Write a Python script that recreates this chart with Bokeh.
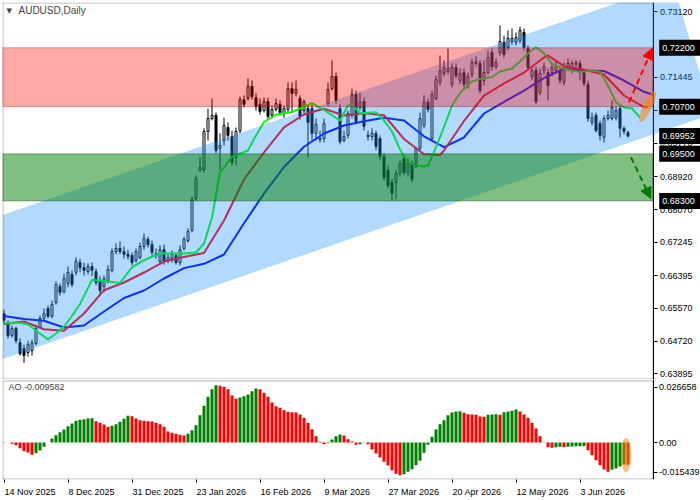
import numpy as np
from bokeh.plotting import figure
from bokeh.layouts import column
from bokeh.models import (ColumnDataSource, Range1d, FixedTicker, PrintfTickFormatter,
                          Label, Arrow, NormalHead, PolyAnnotation, BoxAnnotation)
from bokeh.embed import file_html
from bokeh.resources import INLINE

FONT = "Liberation Sans"

symbol_title = "AUDUSD,Daily"
date_ticks = [0, 16, 32, 48, 64, 80, 96, 112, 128, 144]
date_labels = ["14 Nov 2025", "8 Dec 2025", "31 Dec 2025", "23 Jan 2026", "16 Feb 2026",
               "9 Mar 2026", "27 Mar 2026", "20 Apr 2026", "12 May 2026", "3 Jun 2026"]
price_ticks = [0.73120, 0.71445, 0.70595, 0.69770, 0.68920, 0.68070,
               0.67245, 0.66395, 0.65570, 0.64720, 0.63895]

opens = [
    .6543, .6520, .6487, .6505, .6469, .6454, .6444, .6449, .6467, .6508,
    .6531, .6556, .6536, .6571, .6612, .6599, .6620, .6643, .6648, .6673,
    .6660, .6650, .6663, .6650, .6625, .6612, .6627, .6653, .6701, .6709,
    .6701, .6694, .6691, .6678, .6686, .6714, .6732, .6719, .6696, .6676,
    .6706, .6678, .6683, .6691, .6673, .6709, .6729, .6755, .6836, .6908,
    .6910, .7007, .7040, .7048, .6964, .6984, .7017, .6994, .6941, .7009,
    .7088, .7091, .7122, .7093, .7076, .7060, .7083, .7048, .7063, .7076,
    .7053, .7063, .7116, .7104, .7091, .7060, .7065, .7065, .7002, .6986,
    .6989, .7078, .7116, .7147, .7065, .6984, .6997, .7048, .7101, .7068,
    .7083, .6997, .6994, .7002, .6989, .6943, .6908, .6877, .6877, .6900,
    .6938, .6902, .6923, .6923, .6964, .7022, .7081, .6989, .7091, .7132,
    .7155, .7160, .7127, .7170, .7137, .7157, .7124, .7152, .7180, .7180,
    .7137, .7157, .7208, .7172, .7208, .7234, .7221, .7236, .7234, .7239,
    .7259, .7218, .7147, .7162, .7106, .7162, .7157, .7157, .7162, .7162,
    .7132, .7170, .7162, .7178, .7180, .7157, .7127, .7030, .7048, .7027,
    .6992, .7040, .7040, .7042, .7065, .7015, .7004]
highs = [
    .6553, .6526, .6513, .6510, .6480, .6464, .6474, .6477, .6513, .6538,
    .6556, .6564, .6576, .6625, .6620, .6645, .6663, .6653, .6686, .6683,
    .6673, .6671, .6673, .6658, .6638, .6640, .6666, .6709, .6722, .6727,
    .6714, .6706, .6699, .6709, .6724, .6747, .6739, .6729, .6709, .6717,
    .6719, .6696, .6704, .6699, .6717, .6739, .6760, .6841, .6895, .6941,
    .7015, .7065, .7091, .7055, .7002, .7042, .7030, .7009, .7017, .7096,
    .7099, .7142, .7137, .7104, .7091, .7093, .7093, .7073, .7091, .7086,
    .7073, .7132, .7132, .7137, .7099, .7088, .7076, .7076, .7040, .7009,
    .7040, .7132, .7188, .7157, .7076, .7009, .7060, .7116, .7111, .7106,
    .7093, .7009, .7015, .7009, .6997, .6951, .6920, .6887, .6908, .6933,
    .6946, .6938, .6933, .6966, .7055, .7099, .7091, .7111, .7149, .7200,
    .7188, .7218, .7180, .7180, .7167, .7167, .7157, .7193, .7198, .7188,
    .7188, .7213, .7218, .7193, .7277, .7251, .7264, .7269, .7259, .7274,
    .7269, .7226, .7172, .7172, .7167, .7183, .7167, .7183, .7188, .7172,
    .7183, .7193, .7188, .7188, .7188, .7162, .7137, .7055, .7055, .7035,
    .7048, .7060, .7086, .7071, .7073, .7020, .7009]
lows = [
    .6515, .6480, .6482, .6467, .6436, .6418, .6434, .6436, .6462, .6505,
    .6526, .6531, .6531, .6566, .6589, .6594, .6610, .6610, .6640, .6648,
    .6640, .6643, .6638, .6615, .6592, .6597, .6620, .6648, .6694, .6694,
    .6683, .6681, .6666, .6673, .6681, .6706, .6711, .6691, .6683, .6668,
    .6668, .6671, .6673, .6668, .6666, .6704, .6724, .6750, .6831, .6905,
    .6902, .6984, .7035, .6951, .6908, .6971, .6984, .6920, .6920, .7002,
    .7068, .7086, .7088, .7060, .7050, .7055, .7037, .7040, .7058, .7048,
    .7042, .7055, .7055, .7096, .7037, .7053, .6941, .6984, .6984, .6979,
    .6979, .7071, .7111, .7078, .6974, .6979, .6989, .7040, .7025, .7060,
    .7009, .6984, .6984, .6959, .6933, .6882, .6862, .6831, .6834, .6892,
    .6895, .6892, .6877, .6913, .6959, .7015, .7055, .6984, .7086, .7124,
    .7147, .7152, .7119, .7142, .7127, .7119, .7116, .7144, .7172, .7104,
    .7124, .7152, .7162, .7165, .7200, .7195, .7213, .7228, .7226, .7231,
    .7213, .7162, .7137, .7076, .7099, .7152, .7086, .7147, .7155, .7129,
    .7124, .7162, .7155, .7170, .7137, .7122, .7032, .7022, .7004, .6984,
    .6979, .7035, .7035, .7035, .6992, .6999, .6992]
closes = [
    .6526, .6487, .6505, .6474, .6441, .6436, .6464, .6469, .6505, .6531,
    .6543, .6536, .6566, .6617, .6597, .6632, .6648, .6617, .6676, .6660,
    .6653, .6663, .6653, .6622, .6602, .6632, .6655, .6701, .6709, .6701,
    .6694, .6689, .6673, .6701, .6714, .6734, .6719, .6699, .6691, .6706,
    .6676, .6686, .6694, .6673, .6706, .6732, .6752, .6834, .6887, .6915,
    .7007, .7040, .7048, .6958, .6971, .7022, .6997, .6928, .7007, .7088,
    .7076, .7122, .7096, .7071, .7058, .7083, .7045, .7063, .7078, .7055,
    .7065, .7116, .7104, .7114, .7045, .7083, .7030, .7002, .7025, .6989,
    .7027, .7114, .7147, .7086, .6981, .6994, .7053, .7101, .7032, .7083,
    .7020, .6994, .7002, .6969, .6943, .6890, .6869, .6849, .6900, .6925,
    .6902, .6925, .6885, .6964, .7040, .7083, .7063, .7101, .7139, .7162,
    .7170, .7167, .7170, .7149, .7155, .7127, .7147, .7183, .7185, .7111,
    .7157, .7195, .7172, .7183, .7236, .7203, .7244, .7244, .7246, .7264,
    .7221, .7170, .7162, .7083, .7155, .7172, .7124, .7170, .7175, .7137,
    .7167, .7180, .7180, .7183, .7157, .7129, .7040, .7042, .7009, .6997,
    .7040, .7048, .7068, .7060, .7015, .7007, .69952]

# Alligator lines (x = bar index, shifted lines extend past the last bar)
jaw_x = list(range(0, 161, 5)) + [164]
jaw_y = [.65369, .65293, .65247, .65076, .65127, .65484, .65828, .66019, .66324, .66589,
         .66699, .66936, .67733, .68489, .69164, .69679, .70017, .70221, .70331, .70417,
         .70349, .69946, .69669, .69916, .70527, .70825, .71108, .71431, .71665, .71622,
         .71609, .71367, .71080, .70947]
teeth_x = [0, 5, 10, 15, 20, 25, 30, 35, 40, 45, 50, 55, 60, 65, 70, 75, 80, 85, 90, 95,
           100, 105, 109, 110, 115, 120, 125, 130, 135, 136, 140, 145, 150, 155, 160, 161]
teeth_y = [.65165, .65229, .65033, .64995, .65433, .66026, .66222, .66477, .66757, .66872,
           .66974, .67802, .68846, .69534, .70175, .70501, .70649, .70476, .70532, .70484,
           .69877, .69488, .69470, .69585, .70336, .70980, .71291, .71571, .71953, .72004,
           .71732, .71640, .71520, .70985, .70687, .70680]
lips_x = [0, 3, 6, 9, 11, 13, 15, 17, 19, 22, 25, 29, 32, 35, 39, 44, 48, 50, 52, 54,
          57, 61, 63, 65, 68, 72, 77, 80, 83, 84, 86, 87, 89, 93, 95, 97, 99, 101, 103, 105,
          106, 108, 110, 112, 114, 117, 119, 122, 124, 127, 129, 131, 133, 135, 137, 140, 144, 147, 149, 151,
          153, 155, 157, 159]
lips_y = [.65178, .65211, .65153, .64924, .64771, .64924, .65102, .65369, .65675, .66286,
          .66261, .66210, .66605, .66790, .66969, .66953, .66987, .67216, .67878, .69024,
          .69424, .69585, .69967, .70310, .70501, .70565, .70789, .70616, .70412, .70349,
          .70731, .70756, .70527, .70560, .70349, .70068, .69610, .69286, .69195, .69177,
          .69202, .69669, .70178, .70731, .71049, .71342, .71406, .71457, .71597, .71673,
          .71851, .72055, .72216, .72055, .71788, .71665, .71584, .71622, .71584, .71240,
          .70807, .70680, .70654, .70425]

ao = [-0.00011, 0.00003, -0.00054, -0.00112, -0.00241, -0.00369, -0.00427, -0.00527, -0.00455, -0.00341,
      -0.00183, 0.00003, 0.00175, 0.00318, 0.00447, 0.00561, 0.00704, 0.00819, 0.00934, 0.00976,
      0.01005, 0.01034, 0.01048, 0.00919, 0.00848, 0.00776, 0.00676, 0.00719, 0.00790, 0.00891,
      0.01019, 0.01148, 0.01134, 0.01034, 0.00962, 0.00934, 0.00919, 0.00905, 0.00848, 0.00790,
      0.00676, 0.00475, 0.00418, 0.00375, 0.00332, 0.00304, 0.00375, 0.00533, 0.00747, 0.01177,
      0.01578, 0.01964, 0.02294, 0.02466, 0.02437, 0.02394, 0.02294, 0.02022, 0.01879, 0.01936,
      0.01993, 0.02065, 0.02208, 0.02322, 0.02294, 0.02136, 0.01964, 0.01721, 0.01564, 0.01492,
      0.01392, 0.01320, 0.01306, 0.01291, 0.01206, 0.01062, 0.00848, 0.00576, 0.00275, 0.00031,
      -0.00069, -0.00026, 0.00132, 0.00275, 0.00346, 0.00304, 0.00146, 0.00046, -0.00097, -0.00069,
      0.00017, -0.00069, -0.00298, -0.00470, -0.00641, -0.00828, -0.00985, -0.01186, -0.01343, -0.01400,
      -0.01357, -0.01257, -0.01143, -0.00971, -0.00785, -0.00441, -0.00097, 0.00246, 0.00561, 0.00790,
      0.00962, 0.01177, 0.01291, 0.01334, 0.01349, 0.01277, 0.01220, 0.01206, 0.01191, 0.01120,
      0.01105, 0.01191, 0.01206, 0.01220, 0.01191, 0.01306, 0.01334, 0.01363, 0.01420, 0.01334,
      0.01206, 0.01062, 0.00848, 0.00604, 0.00275, -0.00011, -0.00198, -0.00226, -0.00198, -0.00183,
      -0.00198, -0.00183, -0.00169, -0.00162, -0.00155, -0.00147, -0.00326, -0.00541, -0.00756, -0.00971,
      -0.01157, -0.01257, -0.01171, -0.01114, -0.01028, -0.00942, -0.009582]
ao_scale = [-0.015439, 0.026658]

# levels / drawn objects
resistance_zone = (0.70700, 0.72200)
support_zone = (0.68300, 0.69500)
channel_x = [0, 160]
channel_upper = [0.67955, 0.73579]
channel_height = 0.03667
forecast_up = (0.70810, 0.72190)
forecast_down = (0.69410, 0.68360)

# ---- geometry of the window (pixels -> data) ----
PX_X = 0.25            # bars per pixel
X0 = -0.375            # data x at the frame's left edge
X1 = X0 + 698 * PX_X   # frame runs to the right edge of the window
AXIS_X = 162.25        # where the price scale sits (pixel column 652)
PX_P = 0.0002547       # price per pixel
P_TOP = 0.73354
P_BOT = P_TOP - 377 * PX_P
PX_A = (ao_scale[1] - ao_scale[0]) / 98.0
A_TOP = ao_scale[1] + PX_A
A_BOT = ao_scale[0] - PX_A

n = len(closes)
idx = np.arange(n)
o = np.array(opens); c = np.array(closes)
bull = c >= o
last_close = closes[-1]


def clip_line(xs, ys, xmax):
    xs = np.asarray(xs, float); ys = np.asarray(ys, float)
    keep = xs <= xmax
    if keep.all():
        return xs, ys
    ye = np.interp(xmax, xs, ys)
    return np.append(xs[keep], xmax), np.append(ys[keep], ye)


p = figure(frame_width=698, frame_height=377,
           x_range=Range1d(X0, X1), y_range=Range1d(P_BOT, P_TOP),
           x_axis_location=None, y_axis_location="right",
           output_backend="svg", toolbar_location=None,
           min_border_left=2, min_border_top=2, min_border_bottom=0, min_border_right=0)
p.background_fill_color = "white"
p.border_fill_color = "white"
p.outline_line_color = None
p.grid.visible = False

src = ColumnDataSource(dict(x=idx, h=highs, l=lows, top=np.maximum(o, c), bot=np.minimum(o, c),
                            fill=["white" if b else "black" for b in bull]))
p.segment(x0="x", y0="h", x1="x", y1="l", source=src, line_color="black", line_width=1)
p.vbar(x="x", top="top", bottom="bot", width=0.5, fill_color="fill", line_color="black",
       line_width=1, source=src)

for xs, ys, col in [(jaw_x, jaw_y, "#0000ff"), (teeth_x, teeth_y, "#ff0000"), (lips_x, lips_y, "#00ff00")]:
    cx_, cy_ = clip_line(xs, ys, AXIS_X)
    p.line(cx_, cy_, line_color=col, line_width=2)

# channel (overlay)
slope = (channel_upper[1] - channel_upper[0]) / (channel_x[1] - channel_x[0])
def upper(x):
    return channel_upper[0] + slope * (x - channel_x[0])
xr_top, xr_bot = 167.25, 177.0
cx = [X0, xr_top, xr_bot, X0]
cy = [upper(X0), upper(xr_top), upper(xr_bot) - channel_height, upper(X0) - channel_height]
p.add_layout(PolyAnnotation(xs=cx, ys=cy, fill_color="#1e90ff", fill_alpha=0.34, line_color=None))

p.add_layout(BoxAnnotation(left=X0, right=AXIS_X, bottom=resistance_zone[0], top=resistance_zone[1],
                           fill_color="#ff0000", fill_alpha=0.34, line_color="#5a0000", line_width=1))
p.add_layout(BoxAnnotation(left=X0, right=AXIS_X, bottom=support_zone[0], top=support_zone[1],
                           fill_color="#008000", fill_alpha=0.5, line_color="#002a00", line_width=1))
# chart border (left / top / bottom; the price scale draws the right one)
p.add_layout(BoxAnnotation(left=X0 + 0.5 * PX_X, right=AXIS_X, top=P_TOP - 0.5 * PX_P,
                           bottom=P_BOT + 0.5 * PX_P, fill_color=None, line_color="black", line_width=1))

p.add_layout(Arrow(end=NormalHead(size=11, fill_color="#ff0000", line_color="#ff0000"),
                   x_start=n - 1 + 0.25, y_start=forecast_up[0], x_end=n - 1 + 6.1, y_end=forecast_up[1],
                   line_color="#ff0000", line_width=2, line_dash="6 4"))
p.add_layout(Arrow(end=NormalHead(size=11, fill_color="#007a00", line_color="#007a00"),
                   x_start=n - 1 + 0.75, y_start=forecast_down[0], x_end=n - 1 + 5.7, y_end=forecast_down[1],
                   line_color="#007a00", line_width=2, line_dash="6 4"))

p.ellipse(x=[n - 1 + 4.9], y=[resistance_zone[0]], width=34, height=9, angle=64, angle_units="deg",
          width_units="screen", height_units="screen", fill_color="#ff8000", fill_alpha=0.55,
          line_color=None, level="overlay")

ax = p.yaxis[0]
ax.fixed_location = AXIS_X
ax.ticker = FixedTicker(ticks=price_ticks)
ax.formatter = PrintfTickFormatter(format="%.5f")
ax.major_label_text_font = FONT
ax.major_label_text_font_size = "9px"
ax.major_label_text_color = "black"
ax.major_tick_out = 4
ax.major_tick_in = 0
ax.minor_tick_out = 0
ax.minor_tick_in = 0
ax.axis_line_color = "black"
ax.major_label_standoff = 3

p.add_layout(Label(x=4, y=369, x_units="screen", y_units="screen", text="\u25bc",
                   text_font="DejaVu Sans", text_font_size="7px", text_baseline="middle"))
p.add_layout(Label(x=16, y=369, x_units="screen", y_units="screen", text=symbol_title,
                   text_font=FONT, text_font_size="10px", text_baseline="middle"))

for lvl in [resistance_zone[1], resistance_zone[0], last_close, support_zone[1], support_zone[0]]:
    p.add_layout(Label(x=AXIS_X + 6.2 * PX_X, y=lvl, x_units="data", y_units="data",
                       text=f"{lvl:.5f}" + "\u00a0\u00a0", text_font=FONT, text_font_size="9px",
                       text_color="white", text_baseline="middle", text_align="left",
                       background_fill_color="black", padding=3))

# ---- AO pane ----
q = figure(frame_width=698, frame_height=100, x_range=p.x_range,
           y_range=Range1d(A_BOT, A_TOP),
           y_axis_location="right", output_backend="svg", toolbar_location=None,
           min_border_left=2, min_border_top=0, min_border_bottom=21, min_border_right=0)
q.background_fill_color = "white"
q.border_fill_color = "white"
q.outline_line_color = None
q.grid.visible = False
ao_arr = np.array(ao)
ao_col = ["#008000"] + ["#008000" if ao_arr[k] >= ao_arr[k - 1] else "#ff0000" for k in range(1, n)]
q.vbar(x=idx, top=ao, bottom=0, width=0.75, fill_color=ao_col, line_color=None)
q.ellipse(x=[n - 1.5], y=[ao[-1] / 2 - 0.0006], width=10, height=34, width_units="screen",
          height_units="screen", fill_color="#ff8000", fill_alpha=0.5, line_color=None, level="overlay")
q.add_layout(BoxAnnotation(left=X0 + 0.5 * PX_X, right=AXIS_X, top=A_TOP - 1.5 * PX_A,
                           bottom=A_BOT + 0.5 * PX_A, fill_color=None, line_color="black", line_width=1))

span_ao = ao_scale[1] - ao_scale[0]
ao_tick_pos = [ao_scale[1] - span_ao * 6.7 / 98, 0.0, ao_scale[0] + span_ao * 6.3 / 98]
ay = q.yaxis[0]
ay.fixed_location = AXIS_X
ay.ticker = FixedTicker(ticks=ao_tick_pos)
ay.major_label_overrides = {ao_tick_pos[0]: f"{ao_scale[1]:.6f}", 0.0: "0.00",
                            ao_tick_pos[2]: f"{ao_scale[0]:.6f}"}
ay.major_tick_out = 4
ay.major_label_standoff = 2

# date labels: MT4 writes them starting at the bar; place the centre half a label width to the right
CW = {" ": 278, "A": 667, "D": 722, "F": 611, "J": 500, "M": 833, "N": 722,
      "a": 556, "b": 556, "c": 500, "e": 556, "n": 556, "o": 556, "p": 556, "r": 333,
      "u": 556, "v": 500, "y": 500}
def text_w(s, size=9):
    return sum(CW.get(ch, 556) for ch in s) * size / 1000.0
label_pos = [t + 0.5 * PX_X + text_w(s) / 2 * PX_X for t, s in zip(date_ticks, date_labels)]
xa = q.xaxis[0]
xa.ticker = FixedTicker(ticks=label_pos, minor_ticks=date_ticks)
xa.major_label_overrides = {pos: s for pos, s in zip(label_pos, date_labels)}
xa.major_tick_out = 0
xa.major_tick_in = 0
xa.minor_tick_out = 3
xa.minor_tick_in = 0
xa.minor_tick_line_color = "black"
xa.major_label_standoff = 4
xa.axis_line_color = None

for a in (ay, xa):
    a.major_label_text_font = FONT
    a.major_label_text_font_size = "9px"
    a.major_label_text_color = "black"
ay.major_tick_in = 0
ay.minor_tick_out = 0
ay.minor_tick_in = 0
ay.axis_line_color = "black"

q.add_layout(Label(x=6, y=92.5, x_units="screen", y_units="screen", text=f"AO {ao[-1]:.6f}",
                   text_font=FONT, text_font_size="9px", text_baseline="middle"))

layout = column(p, q)
open("out.html", "w").write(file_html(layout, INLINE, title="AUDUSD Daily"))
